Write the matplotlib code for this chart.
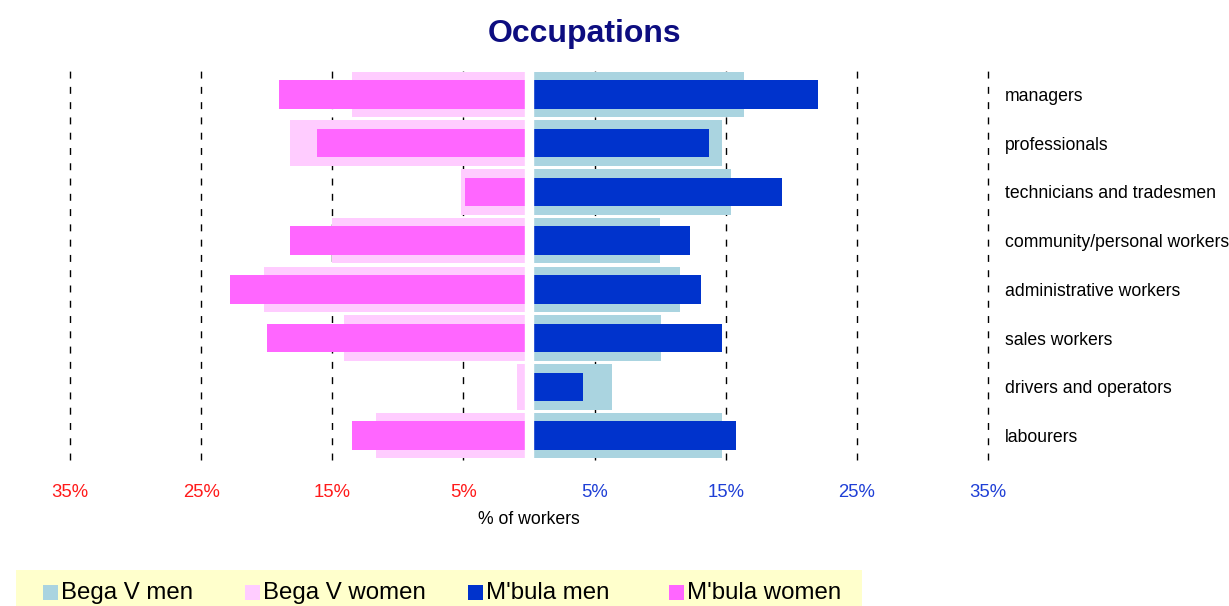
import matplotlib.pyplot as plt
from matplotlib.patches import Rectangle

plt.rcParams['font.family'] = ['Liberation Sans', 'DejaVu Sans']

occupations = ['managers', 'professionals', 'technicians and tradesmen',
               'community/personal workers', 'administrative workers',
               'sales workers', 'drivers and operators', 'labourers']
bega_men = [16.4, 14.7, 15.4, 10.0, 11.5, 10.1, 6.3, 14.7]
bega_women = [13.5, 18.2, 5.2, 15.0, 20.2, 14.1, 0.9, 11.7]
mbula_men = [22.0, 13.7, 19.3, 12.3, 13.1, 14.7, 4.1, 15.8]
mbula_women = [19.1, 16.2, 4.9, 18.2, 22.8, 20.0, 0.0, 13.5]
grid_pct = [5, 15, 25, 35]

c_bega_men = '#aad4e0'
c_bega_women = '#ffccff'
c_mbula_men = '#0033cc'
c_mbula_women = '#ff66ff'

W, H = 1229, 606
fig = plt.figure(figsize=(W / 100, H / 100), dpi=100)
ax = fig.add_axes([70 / W, 1 - 460 / H, 918 / W, 390 / H])

y = list(range(len(occupations)))
ax.barh(y, bega_men, height=0.93, color=c_bega_men, zorder=2)
ax.barh(y, [-v for v in bega_women], height=0.93, color=c_bega_women, zorder=2)
ax.barh(y, mbula_men, height=0.58, color=c_mbula_men, zorder=2)
ax.barh(y, [-v for v in mbula_women], height=0.58, color=c_mbula_women, zorder=2)

# white gutter between the women's and men's halves
ax.axvspan(-0.3, 0.3, color='white', zorder=3)

for g in grid_pct:
    for x in (-g, g):
        ax.axvline(x, color='black', lw=1.0, ls=(0, (5, 6)), zorder=1, clip_on=False)

ax.set_xlim(-35, 35)
ax.set_ylim(len(occupations) - 0.5, -0.5)

xt = [-g for g in grid_pct[::-1]] + grid_pct
ax.set_xticks(xt)
ax.set_xticklabels([f'{abs(v)}%' for v in xt], fontsize=13.3)
for lab, v in zip(ax.get_xticklabels(), xt):
    lab.set_color('#ff1a1a' if v < 0 else '#1f3fd6')
ax.tick_params(axis='x', length=0, pad=17)

ax.yaxis.tick_right()
ax.set_yticks(y)
ax.set_yticklabels(occupations, fontsize=12.7)
ax.tick_params(axis='y', length=0, pad=12)

for s in ax.spines.values():
    s.set_visible(False)

fig.text(529 / W, 1 - 519 / H, '% of workers', ha='center', va='center', fontsize=12.7)
fig.text(584.5 / W, 1 - 34 / H, 'Occupations', ha='center', va='center',
         fontsize=23, fontweight='bold', color='#0d0d80')

# legend strip along the bottom
fig.patches.append(Rectangle((16 / W, 0), 846 / W, 36 / H, transform=fig.transFigure,
                             facecolor='#ffffcc', edgecolor='none'))
legend_items = [('Bega V men', c_bega_men, 43), ('Bega V women', c_bega_women, 245),
                ("M'bula men", c_mbula_men, 468), ("M'bula women", c_mbula_women, 669)]
for label, col, px in legend_items:
    fig.patches.append(Rectangle((px / W, 1 - 600 / H), 15 / W, 15 / H,
                                 transform=fig.transFigure, facecolor=col, edgecolor='none'))
    fig.text((px + 18) / W, 1 - 593 / H, label, ha='left', va='center', fontsize=17.3)

fig.savefig('out.png', dpi=100)
